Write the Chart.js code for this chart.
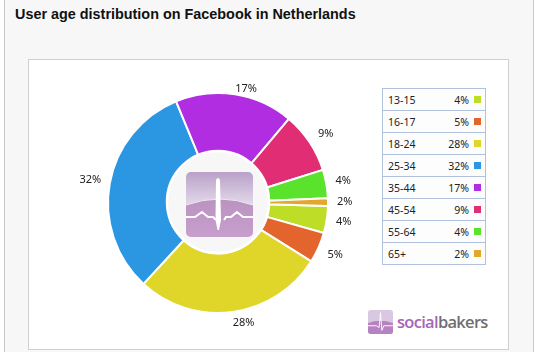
<!DOCTYPE html>
<html>
<head>
<meta charset="utf-8">
<title>User age distribution on Facebook in Netherlands</title>
<script src="https://cdn.jsdelivr.net/npm/chart.js@4/dist/chart.umd.min.js"></script>
<style>
html, body { margin: 0; padding: 0; background: #fff; }
#page { position: relative; width: 538px; height: 352px; overflow: hidden; background: #fff; }
#frame { position: absolute; left: 4px; top: -2px; width: 528px; height: 360px; background: #f7f7f7; border: 1px solid #c8c8c8; }
#title { position: absolute; left: 15px; top: 6px; font: bold 14.4px "Liberation Sans", Arial, sans-serif; color: #111; white-space: nowrap; }
#panel { position: absolute; left: 28px; top: 59px; width: 479px; height: 289px; background: #fff; border: 1px solid #d0d0d0; }
#chartbox { position: absolute; left: 68px; top: 53px; width: 300px; height: 300px; }
#hub { position: absolute; left: 160px; top: 144px; }
#legend { position: absolute; left: 382px; top: 88px; width: 103px; table-layout: fixed; border-collapse: collapse; font: 10.5px "Noto Sans", sans-serif; color: #222; background: #fdfdfd; }
#legend td { border-top: 1px solid #b1c2de; border-bottom: 1px solid #b1c2de; height: 21px; padding: 0; }
#legend td.name { border-left: 1px solid #b1c2de; padding-left: 5px; width: 46px; }
#legend td.pct { text-align: right; width: 35px; }
#legend td.sw { border-right: 1px solid #b1c2de; width: 11px; padding-left: 5px; }
#legend i { display: block; width: 7px; height: 7px; }
#brand { position: absolute; left: 368px; top: 310px; }
#brandtext { position: absolute; left: 397px; top: 310px; font: 600 16.5px "Open Sans", sans-serif; letter-spacing: -0.7px; white-space: nowrap; }
#brandtext b { color: #a865b5; font-weight: 600; }
#brandtext span { color: #6f6f6f; }
</style>
</head>
<body>
<div id="page">
  <div id="frame"></div>
  <div id="title">User age distribution on Facebook in Netherlands</div>
  <div id="panel"></div>
  <div id="chartbox"><canvas id="chart" width="300" height="300"></canvas></div>
  <svg id="hub" width="116" height="116" viewBox="0 0 116 116">
    <defs>
      <linearGradient id="sky" x1="0" y1="0" x2="0" y2="1">
        <stop offset="0" stop-color="#b9a0c8"/><stop offset="0.5" stop-color="#e3d9ea"/>
      </linearGradient>
      <linearGradient id="ground" x1="0" y1="0" x2="0" y2="1">
        <stop offset="0" stop-color="#bb93c0"/><stop offset="1" stop-color="#c79fcd"/>
      </linearGradient>
    </defs>
    <circle cx="58" cy="58" r="51" fill="#f7f7f7" stroke="#fff" stroke-width="2.5"/>
    <rect x="26" y="28" width="67" height="65" rx="5" fill="url(#sky)"/>
    <path d="M26 61 Q60 49 93 61 V88 a5 5 0 0 1 -5 5 H31 a5 5 0 0 1 -5 -5 Z" fill="url(#ground)"/>
    <path d="M26 61 Q60 49 93 61" fill="none" stroke="#efe8f3" stroke-width="1"/>
    <path d="M26 73 H35 L42 68 L48 73 H53 L56 76 M64 76 L66 73 H71 L77 68 L83 73 H93" fill="none" stroke="#fff" stroke-width="2"/>
    <path d="M55.5 76 L56 36 Q58 32 60 36 L61 76 L59 86 L57.5 86 Z" fill="#fff"/>
  </svg>
  <table id="legend"><tbody id="legendBody"></tbody></table>
  <svg id="brand" width="25" height="25" viewBox="0 0 27 27">
    <rect width="27" height="26" rx="3" fill="#d9c8e2"/>
    <path d="M0 14 Q13 9 27 14 V23 a3 3 0 0 1 -3 3 H3 a3 3 0 0 1 -3 -3 Z" fill="#b682c0"/>
    <path d="M0 17 H9 L12 19 L13.5 3 L15 22 L17 17 H27" fill="none" stroke="#fff" stroke-width="1"/>
  </svg>
  <div id="brandtext"><b>social</b><span>bakers</span></div>
</div>
<script>
const categories = ["13-15", "16-17", "18-24", "25-34", "35-44", "45-54", "55-64", "65+"];
// printed percentages
const shares = [4, 5, 28, 32, 17, 9, 4, 2];
// slice sizes as measured off the ring, the printed numbers are rounded
const sliceSizes = [4, 4.5, 28, 32, 17.4, 9, 4.2, 1.1];
const colors = ["#bddd26", "#e3652d", "#e0d62a", "#2b97e2", "#b02de2", "#e02d74", "#5ae22d", "#e2a82b"];

// legend table on the right
document.getElementById("legendBody").innerHTML = categories.map((c, i) =>
    `<tr><td class="name">${c}</td><td class="pct">${shares[i]}%</td><td class="sw"><i style="background:${colors[i]}"></i></td></tr>`
).join("");

// percent labels outside the ring
const outerLabels = {
    id: "outerLabels",
    afterDatasetsDraw(chart) {
        const { ctx } = chart;
        ctx.save();
        ctx.font = '11px "Noto Sans", sans-serif';
        ctx.fillStyle = "#222";
        ctx.textAlign = "center";
        ctx.textBaseline = "middle";
        chart.getDatasetMeta(0).data.forEach((arc, i) => {
            const text = shares[i] + "%";
            const mid = (arc.startAngle + arc.endAngle) / 2;
            const cos = Math.cos(mid), sin = Math.sin(mid);
            const dist = arc.outerRadius + 4 + ctx.measureText(text).width / 2 * Math.abs(cos) + 2 * Math.abs(sin) + 5 * Math.abs(cos);
            // the original labels sit a bit right and low of the slice middle
            ctx.fillText(text, arc.x + cos * dist + 10 * sin * sin, arc.y + sin * dist + 3 * sin * sin);
        });
        ctx.restore();
    }
};

new Chart(document.getElementById("chart"), {
    type: "doughnut",
    data: {
        labels: categories,
        datasets: [{
            data: sliceSizes,
            backgroundColor: colors,
            borderColor: "#fff",
            borderWidth: 2
        }]
    },
    options: {
        responsive: false,
        animation: false,
        rotation: 91.5,
        cutout: "46%",
        layout: { padding: 39 },
        plugins: {
            legend: { display: false },
            tooltip: { enabled: false }
        }
    },
    plugins: [outerLabels]
});
</script>
</body>
</html>
